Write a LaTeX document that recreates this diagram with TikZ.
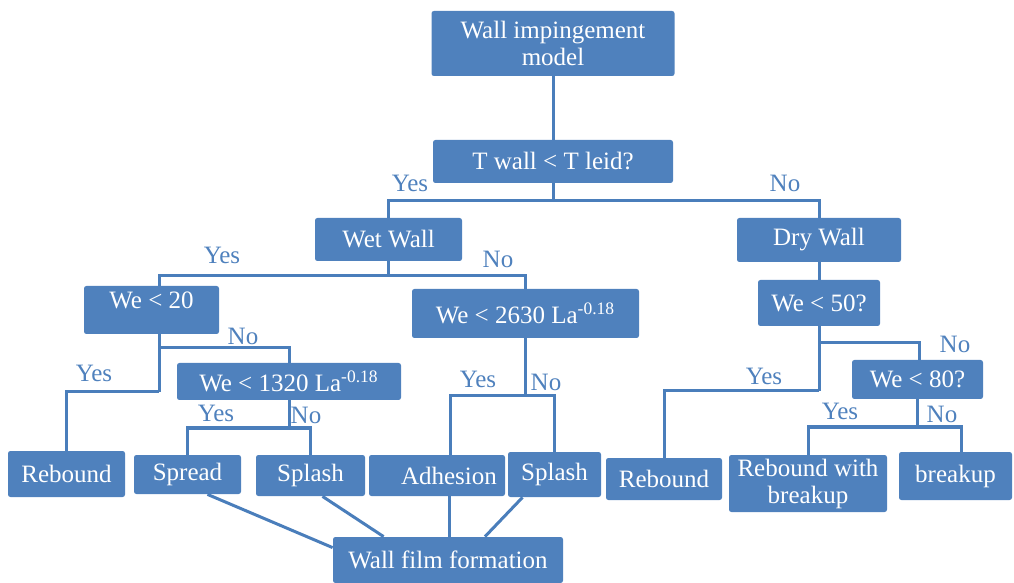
\documentclass[tikz,border=0pt]{standalone}
\usepackage{fontspec}
\setmainfont{Liberation Serif}
\usetikzlibrary{calc}
\definecolor{boxblue}{RGB}{79,129,189}
\definecolor{lineblue}{RGB}{74,126,187}

\begin{document}
\begin{tikzpicture}[x=0.5pt,y=-0.5pt,
    box/.style={rectangle,rounded corners=1.2pt,fill=boxblue,text=white,inner sep=0pt,
      align=center,font=\fontsize{12.5}{13.5}\selectfont},
    wire/.style={draw=lineblue,line width=1.5pt},
    lbl/.style={text=boxblue,inner sep=0pt,font=\fontsize{12.5}{13.5}\selectfont}]
  \useasboundingbox (0,0) rectangle (1014,583);
  % Boxar
  \node[box,minimum width=121.5pt,minimum height=32.5pt] (model) at (553,43.5) {Wall impingement\\model};
  \node[box,minimum width=120pt,minimum height=21.5pt] (twall) at (553,161.5) {T wall < T leid?};
  \node[box,minimum width=73.5pt,minimum height=21.5pt] (wet) at (388.5,239.5) {Wet Wall};
  \node[box,minimum width=82pt,minimum height=22pt] (dry) at (819,240) {Dry Wall};
  \node[box,minimum width=67.5pt,minimum height=24pt,text height=8.5pt,text depth=9.5pt] (we20) at (151.5,310) {We < 20};
  \node[box,minimum width=113.5pt,minimum height=24.5pt] (we2630) at (525.5,313.5) {We < 2630 La\textsuperscript{-0.18}};
  \node[box,minimum width=61pt,minimum height=23pt] (we50) at (819,303) {We < 50?};
  \node[box,minimum width=112pt,minimum height=18.5pt] (we1320) at (289,381.5) {We < 1320 La\textsuperscript{-0.18}};
  \node[box,minimum width=65.5pt,minimum height=19.5pt] (we80) at (917.5,379.5) {We < 80?};
  % Nedersta raden
  \node[box,minimum width=58.5pt,minimum height=23pt] (reb1) at (66.5,474) {Rebound};
  \node[box,minimum width=53.5pt,minimum height=19.5pt] (spread) at (187.5,474.5) {Spread};
  \node[box,minimum width=54.5pt,minimum height=20.5pt] (splash1) at (310.5,475.5) {Splash};
  \node[box,minimum width=68pt,minimum height=20.5pt] (adhesion) at (437,475.5) {\hspace*{12pt}Adhesion};
  \node[box,minimum width=46.5pt,minimum height=22.5pt] (splash2) at (554.5,474.5) {Splash};
  \node[box,minimum width=58pt,minimum height=21pt] (reb2) at (664,479) {Rebound};
  \node[box,minimum width=79pt,minimum height=28.5pt] (rebbreak) at (808,483.5) {Rebound with\\breakup};
  \node[box,minimum width=56.5pt,minimum height=24pt] (breakup) at (955.5,476) {breakup};
  \node[box,minimum width=115pt,minimum height=23pt] (wff) at (448,560) {Wall film formation};
  % Knutpunkter
  \coordinate (j1) at (553,201);
  \coordinate (j2) at (388.5,276);
  \coordinate (j3) at (159,348);
  \coordinate (j4) at (159,392);
  \coordinate (j5) at (289,428);
  \coordinate (j6) at (525.5,396);
  \coordinate (j7) at (819,343);
  \coordinate (j8) at (819,391);
  \coordinate (j9) at (917.5,427);
  % Linjer
  \draw[wire] (model) -- (twall);
  \draw[wire] (twall) -- (j1);
  \draw[wire] (wet.north) |- (j1) -| (dry.north);
  \draw[wire] (wet) -- (j2);
  \draw[wire] ([xshift=3.75pt]we20.north) |- (j2) -| (we2630.north);
  \draw[wire] ([xshift=3.75pt]we20.south) -- (j4);
  \draw[wire] (j3) -| (we1320.north);
  \draw[wire] (j4) -| (reb1.north);
  \draw[wire] (we1320) -- (j5);
  \draw[wire] (spread.north) |- (j5) -| (splash1.north);
  \draw[wire] (we2630) -- (j6);
  \draw[wire] ([xshift=6.5pt]adhesion.north) |- (j6) -| (splash2.north);
  \draw[wire] (dry) -- (we50);
  \draw[wire] (we50) -- (j8);
  \draw[wire] (j7) -| ([xshift=0.75pt]we80.north);
  \draw[wire] (j8) -| (reb2.north);
  \draw[wire] (we80) -- (j9);
  \draw[wire] (rebbreak.north) |- (j9) -| ([xshift=3pt]breakup.north);
  % Till filmen
  \draw[wire] ([xshift=10pt]spread.south) -- ([yshift=-5.5pt]wff.north west);
  \draw[wire] ([xshift=6pt]splash1.south) -- ([xshift=25.5pt]wff.north west);
  \draw[wire] ([xshift=6pt]adhesion.south) -- ([xshift=0.5pt]wff.north);
  \draw[wire] ([xshift=-16pt]splash2.south) -- ([xshift=18.5pt]wff.north);
  % Ja/Nej
  \foreach \x/\y/\t in {410/183/Yes,785/183/No,222/255/Yes,498/259/No,243/336/No,94/373/Yes,
      216/413/Yes,306/415/No,478/379/Yes,546/382/No,955/344/No,764/376/Yes,840/411/Yes,942/414/No}
    \node[lbl] (l\x) at (\x,\y) {\t};
\end{tikzpicture}
\end{document}
